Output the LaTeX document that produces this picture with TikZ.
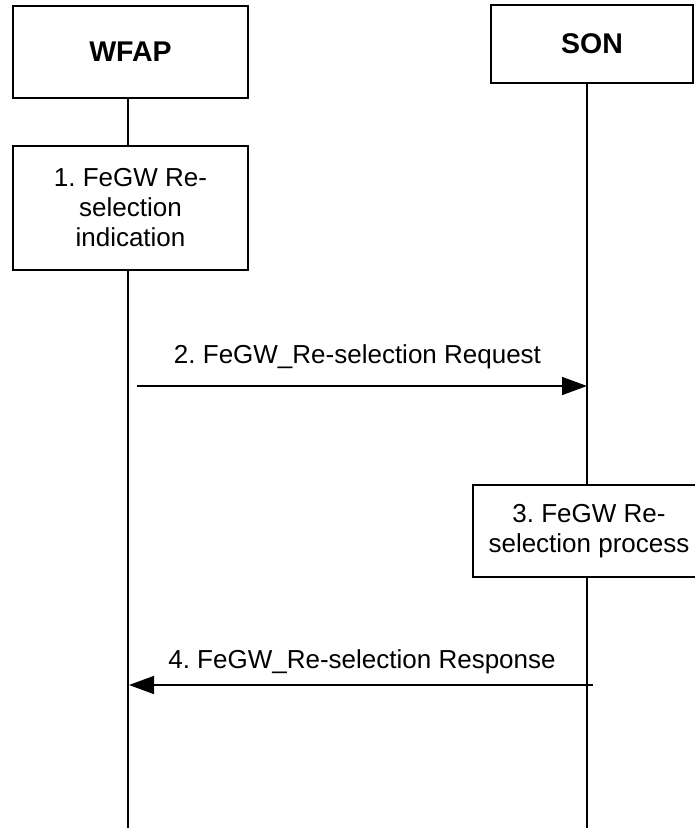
\documentclass[tikz,border=0pt]{standalone}
\usepackage{fontspec}
\setmainfont{Liberation Sans}
\usetikzlibrary{arrows.meta}
\frenchspacing

\tikzset{
  entity/.style={draw, line width=1.5pt, inner sep=0pt, align=center,
    font=\fontsize{28.5}{32}\selectfont\bfseries},
  actionbox/.style={draw, line width=1.5pt, inner sep=0pt, align=center,
    font=\fontsize{26}{30}\selectfont},
  lifeline/.style={line width=1.5pt},
  msg/.style={line width=1.5pt, -{Triangle[length=25pt,width=18pt]}},
  msglabel/.style={font=\fontsize{26}{30}\selectfont, inner sep=0pt, anchor=base}
}

\begin{document}
\begin{tikzpicture}[x=1pt, y=1pt]
  \clip (0,0) rectangle (695,-828);

  % participants
  \node[entity, minimum width=235pt, minimum height=92pt] (wfap) at (130.5,-52) {WFAP};
  \node[entity, minimum width=202pt, minimum height=78pt] (son) at (592,-44) {SON};

  % local actions
  \node[actionbox, minimum width=235pt, minimum height=124pt] (act1) at (130.5,-208)
    {1. FeGW Re-\\selection\\indication};
  \node[actionbox, minimum width=232pt, minimum height=92pt] (act3) at (589,-531)
    {3. FeGW Re-\\selection process};

  % lifeline positions
  \coordinate (wfapBottom) at (128,-828);
  \coordinate (sonBottom) at (587,-828);

  \draw[lifeline] (wfap.south -| wfapBottom) -- (act1.north -| wfapBottom);
  \draw[lifeline] (act1.south -| wfapBottom) -- (wfapBottom);
  \draw[lifeline] (son.south -| sonBottom) -- (act3.north -| sonBottom);
  \draw[lifeline] (act3.south -| sonBottom) -- (sonBottom);

  % messages
  \coordinate (reqStart) at (137,-386);
  \coordinate (reqEnd) at (587,-386);
  \draw[msg] (reqStart) -- (reqEnd);
  \node[msglabel] (reqLabel) at (357.5,-363) {2. FeGW\_Re-selection Request};

  \coordinate (rspStart) at (593,-685);
  \coordinate (rspEnd) at (129,-685);
  \draw[msg] (rspStart) -- (rspEnd);
  \node[msglabel] (rspLabel) at (362,-668) {4. FeGW\_Re-selection Response};
\end{tikzpicture}
\end{document}
